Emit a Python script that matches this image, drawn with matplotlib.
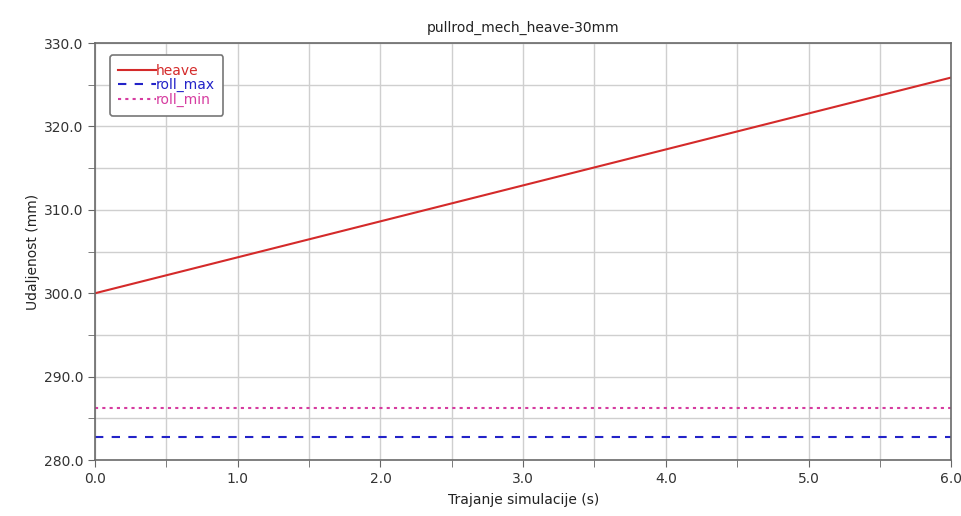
import numpy as np
import matplotlib
matplotlib.use("Agg")
import matplotlib.pyplot as plt
from matplotlib.ticker import MultipleLocator, FormatStrFormatter

# podaci procitani sa slike
time_s = [0.0, 6.0]
heave = [300.0, 325.87]
roll_max = [282.8, 282.8]
roll_min = [286.2, 286.2]

series = [
    ("heave", heave, "#d42a2a", "-"),
    ("roll_max", roll_max, "#2323c8", (0, (4, 4))),
    ("roll_min", roll_min, "#d63ca0", (0, (1.5, 2))),
]

fig = plt.figure(figsize=(9.62, 5.16), dpi=100)
ax = fig.add_axes([0.0988, 0.1085, 0.89, 0.808])

for name, vals, col, ls in series:
    ax.plot(time_s, vals, color=col, linestyle=ls, linewidth=1.5, label=name)

ax.set_xlim(0, 6)
ax.set_ylim(280, 330)
ax.xaxis.set_major_locator(MultipleLocator(1.0))
ax.xaxis.set_minor_locator(MultipleLocator(0.5))
ax.yaxis.set_major_locator(MultipleLocator(10))
ax.yaxis.set_minor_locator(MultipleLocator(5))
ax.xaxis.set_major_formatter(FormatStrFormatter("%.1f"))
ax.yaxis.set_major_formatter(FormatStrFormatter("%.1f"))
ax.grid(True, which="both", color="#cfcfcf", linewidth=1.0)
ax.set_axisbelow(True)
ax.tick_params(which="both", direction="out", length=5, color="#666666",
               labelsize=10, labelcolor="#333333")
for s in ax.spines.values():
    s.set_color("#6a6a6a")
    s.set_linewidth(1.2)

ax.set_title("pullrod_mech_heave-30mm", fontsize=10, color="#222222", pad=8)
ax.set_xlabel("Trajanje simulacije (s)", fontsize=10, color="#222222", labelpad=5)
ax.set_ylabel("Udaljenost (mm)", fontsize=10, color="#222222", labelpad=3)

leg = ax.legend(loc="upper left", bbox_to_anchor=(0.0175, 0.971), fontsize=10,
                handlelength=2.7, handletextpad=0.0, labelspacing=0.05,
                borderpad=0.6, borderaxespad=0, fancybox=True, framealpha=1)
leg.get_frame().set_edgecolor("#777777")
leg.get_frame().set_linewidth(1.2)
for txt, (_, _, col, _) in zip(leg.get_texts(), series):
    txt.set_color(col)

fig.savefig("out.png", dpi=100)
